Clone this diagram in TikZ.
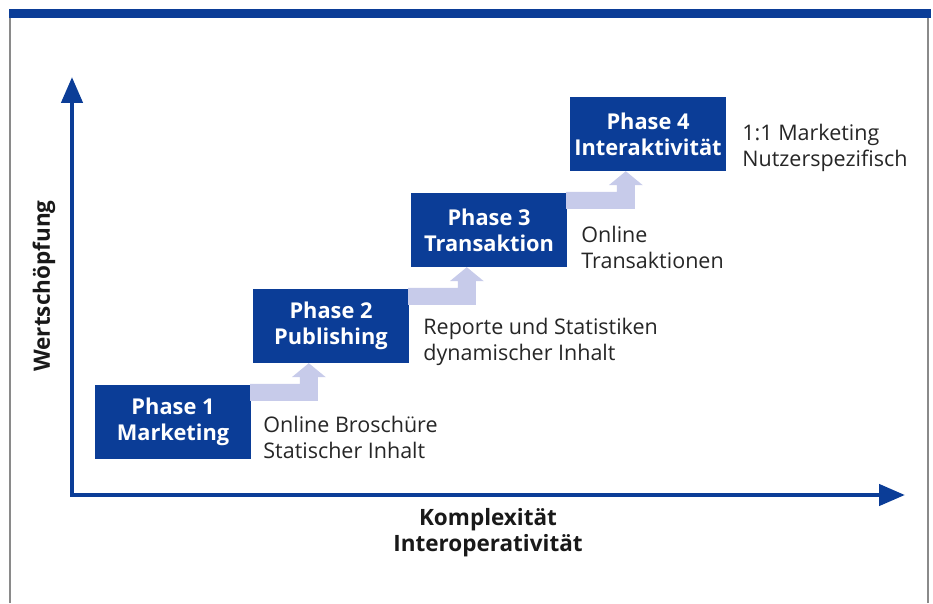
\documentclass[tikz,border=0pt]{standalone}
\usepackage{fontspec}
\setmainfont{Open Sans}
\usetikzlibrary{positioning,calc,arrows.meta}
\definecolor{fhblau}{HTML}{0B3D97}
\definecolor{stufenblau}{HTML}{C7CBEA}
\definecolor{rahmengrau}{HTML}{8A8A8A}

\begin{document}
\begin{tikzpicture}[x=1pt,y=1pt,
	phase/.style={fill=fhblau, text=white, font=\bfseries\fontsize{21.8}{26}\selectfont, align=center, minimum width=156pt, minimum height=74pt, inner sep=0pt},
	beschr/.style={text=black!85, font=\fontsize{21.5}{26}\selectfont, align=left, inner sep=0pt},
	achsentext/.style={text=black!90, font=\bfseries\fontsize{22.5}{26}\selectfont, inner sep=0pt},
	stufe/.style={fill=stufenblau},
	achse/.style={draw=fhblau, line width=4.5pt, >={Triangle[length=26pt,width=21pt]}}]
\useasboundingbox (0,0) rectangle (933,603);

%%%% -----------Rahmen-------------%%%%
\fill [fhblau]	(9,585) rectangle (931,594)						;
\draw [rahmengrau, line width=1.2pt]	(10,0) -- (10,585)		;
\draw [rahmengrau, line width=1.2pt]	(928,0) -- (928,585)	;

%%%% -----------Achsen-------------%%%%
\coordinate (o) at (72,108)		;
\coordinate (ytop) at (72,526)	;
\coordinate (xend) at (905,108)	;
\draw [achse, <->] (ytop) -- (o) -- (xend)	;

\node [achsentext, rotate=90] (wert) at (44,317) {Wertschöpfung}						;
\node [achsentext, align=center] (kompl) at (488,70) {Komplexität\\Interoperativität}	;

%%%% -----------Phasen-------------%%%%
\node [phase] (p1) at (173,181) {Phase 1\\Marketing}		;
\node [phase] (p2) at (331,277) {Phase 2\\Publishing}		;
\node [phase] (p3) at (489,373) {Phase 3\\Transaktion}		;
\node [phase] (p4) at (648,469) {Phase 4\\Interaktivität}	;

%%%------------Stufen-Pfeile---------%%%
\fill [stufe] let \p1=(p1.north east), \p2=(p2.south west) in
	(\x1-1pt,\y1+1pt) -- (\x2+47pt,\y1+1pt) -- (\x2+47pt,\y2-14pt) -- (\x2+39pt,\y2-14pt) -- (\x2+56pt,\y2) -- (\x2+73pt,\y2-14pt) -- (\x2+65pt,\y2-14pt) -- (\x2+65pt,\y1-16pt) -- (\x1-1pt,\y1-16pt) -- cycle ;
\fill [stufe] let \p1=(p2.north east), \p2=(p3.south west) in
	(\x1-1pt,\y1+1pt) -- (\x2+47pt,\y1+1pt) -- (\x2+47pt,\y2-14pt) -- (\x2+39pt,\y2-14pt) -- (\x2+56pt,\y2) -- (\x2+73pt,\y2-14pt) -- (\x2+65pt,\y2-14pt) -- (\x2+65pt,\y1-16pt) -- (\x1-1pt,\y1-16pt) -- cycle ;
\fill [stufe] let \p1=(p3.north east), \p2=(p4.south west) in
	(\x1-1pt,\y1+1pt) -- (\x2+47pt,\y1+1pt) -- (\x2+47pt,\y2-14pt) -- (\x2+39pt,\y2-14pt) -- (\x2+56pt,\y2) -- (\x2+73pt,\y2-14pt) -- (\x2+65pt,\y2-14pt) -- (\x2+65pt,\y1-16pt) -- (\x1-1pt,\y1-16pt) -- cycle ;

%%%------------Beschreibungen---------%%%
\node [beschr, anchor=west] (b1) at ($(p1.east)+(12,-15)$) {Online Broschüre\\Statischer Inhalt}		;
\node [beschr, anchor=west] (b2) at ($(p2.east)+(14,-16)$) {Reporte und Statistiken\\dynamischer Inhalt}	;
\node [beschr, anchor=west] (b3) at ($(p3.east)+(14,-17)$) {Online\\Transaktionen}						;
\node [beschr, anchor=west] (b4) at ($(p4.east)+(16,-14)$) {1:1 Marketing\\Nutzerspezifisch}				;

\end{tikzpicture}
\end{document}
